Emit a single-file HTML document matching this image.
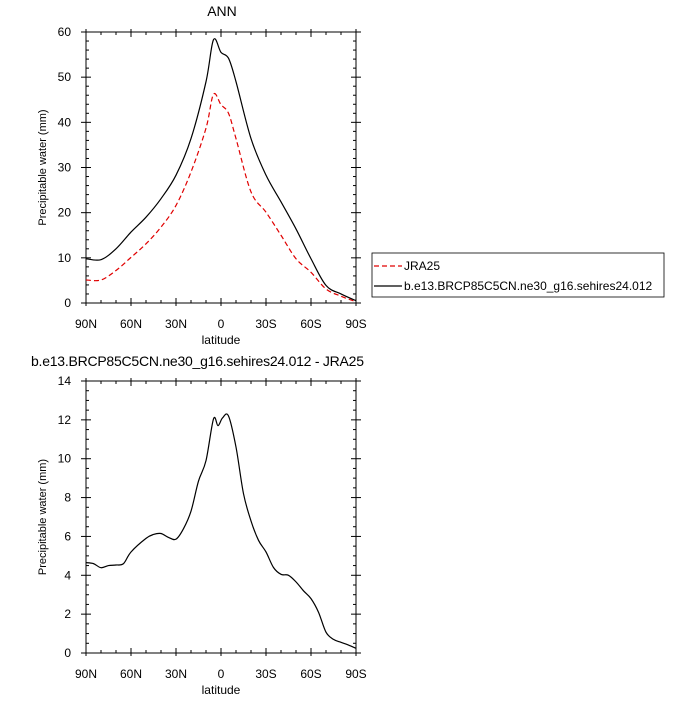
<!DOCTYPE html>
<html><head><meta charset="utf-8"><style>
body{margin:0;background:#fff;}
svg text{font-family:"Liberation Sans",sans-serif;fill:#000;}
</style></head><body>
<svg id="c" width="700" height="700" viewBox="0 0 700 700" xmlns="http://www.w3.org/2000/svg"></svg>
<script>
const lats=[90,80,70,60,50,40,30,20,10,5,0,-5,-10,-20,-30,-40,-50,-60,-70,-80,-90];
const modelVals=[9.8,9.6,12,15.7,19,23.1,28.3,36.4,49,58.3,55.5,54.2,49,36.4,28.3,22.4,16.4,9.8,3.9,2,0.5];
const jraVals=[5.1,5.1,7.2,10.1,13.1,16.8,21.6,29,38.7,46.2,43.9,42,36.4,24.6,20.1,15,9.8,6.8,3.1,1.5,0.3];
const diffLats=[90,85,80,75,70,65,60,50,45,40,35,30,25,20,15,10,5,2,-1,-5,-10,-15,-20,-25,-30,-35,-40,-45,-50,-55,-60,-65,-70,-75,-80,-85,-90];
const diffVals=[4.65,4.6,4.39,4.5,4.53,4.6,5.2,5.9,6.1,6.15,5.95,5.86,6.4,7.3,8.85,9.9,12.05,11.7,12.1,12.2,10.6,8.2,6.8,5.8,5.2,4.4,4.05,4.0,3.66,3.2,2.8,2.1,1.07,0.7,0.55,0.41,0.24];
const xTicks=[90,60,30,0,-30,-60,-90];
const xTickLabels=["90N","60N","30N","0","30S","60S","90S"];
const topYTicks=[0,10,20,30,40,50,60];
const botYTicks=[0,2,4,6,8,10,12,14];

const svg=document.getElementById('c');
const NS='http://www.w3.org/2000/svg';
function mk(tag,attrs,parent){const e=document.createElementNS(NS,tag);for(const k in attrs)e.setAttribute(k,attrs[k]);(parent||svg).appendChild(e);return e;}
const L=86,R=356;
function xs(lat){return L+(90-lat)/180*(R-L);}

function panel(top,bottom,ymax,yTicks,minorStep,name){
  const g=mk('g',{});
  
  
  const ys=v=>bottom-v/ymax*(bottom-top);
  mk('rect',{x:L,y:top,width:R-L,height:bottom-top,fill:'none',stroke:'#000','stroke-width':1},g);
  for(let lat=90;lat>=-90;lat-=10){
    const major=lat%30===0;const x=xs(lat);const len=major?5:3;
    mk('line',{x1:x,y1:bottom+(major?3:0),x2:x,y2:bottom-len,stroke:'#000'},g);
    mk('line',{x1:x,y1:top-(major?3:0),x2:x,y2:top+len,stroke:'#000'},g);
  }
  xTicks.forEach((t,i)=>{const tx=mk('text',{x:xs(t),y:bottom+25,'text-anchor':'middle','font-size':12},g);tx.textContent=xTickLabels[i];
    });
  for(let v=0;v<=ymax+1e-9;v+=minorStep){
    const y=ys(v);const major=yTicks.some(t=>Math.abs(t-v)<1e-6);const len=major?5:3;
    mk('line',{x1:L-(major?5:0),y1:y,x2:L+len,y2:y,stroke:'#000'},g);
    mk('line',{x1:R+(major?5:0),y1:y,x2:R-len,y2:y,stroke:'#000'},g);
  }
  yTicks.forEach(t=>{const tx=mk('text',{x:L-15,y:ys(t)+4,'text-anchor':'end','font-size':12},g);tx.textContent=t;
    });
  const xl=mk('text',{x:(L+R)/2,y:bottom+41,'text-anchor':'middle','font-size':12},g);xl.textContent='latitude';
  
  const yl=mk('text',{x:0,y:0,'text-anchor':'middle','font-size':11,transform:`translate(46,${(top+bottom)/2}) rotate(-90)`},g);yl.textContent='Precipitable water (mm)';
  
  return ys;
}
function line(lx,vals,ys,attrs,name){
  const P=lx.map((l,i)=>[xs(l),ys(vals[i])]);
  let d='M'+P[0][0]+','+P[0][1];
  for(let i=0;i<P.length-1;i++){
    const p0=P[i-1]||P[i],p1=P[i],p2=P[i+1],p3=P[i+2]||P[i+1];
    const c1=[p1[0]+(p2[0]-p0[0])/6,p1[1]+(p2[1]-p0[1])/6];
    const c2=[p2[0]-(p3[0]-p1[0])/6,p2[1]-(p3[1]-p1[1])/6];
    d+=` C${c1[0]},${c1[1]} ${c2[0]},${c2[1]} ${p2[0]},${p2[1]}`;
  }
  const p=mk('path',Object.assign({d:d,fill:'none','stroke-linejoin':'round'},attrs));
  
  
}
const ys1=panel(32,303,60,topYTicks,2,'top-panel');
line(lats,jraVals,ys1,{stroke:'#e00000','stroke-width':1.2,'stroke-dasharray':'5,3'},'jra25-line');
line(lats,modelVals,ys1,{stroke:'#000','stroke-width':1.2},'model-line');
const ys2=panel(381,653,14,botYTicks,0.5,'bottom-panel');
line(diffLats,diffVals,ys2,{stroke:'#000','stroke-width':1.2},'difference-line');

let t=mk('text',{x:222,y:16,'text-anchor':'middle','font-size':14});t.textContent='ANN';

t=mk('text',{x:31,y:366,'font-size':14,textLength:333});t.textContent='b.e13.BRCP85C5CN.ne30_g16.sehires24.012 - JRA25';


const lg=mk('g',{});


mk('rect',{x:372,y:253,width:292,height:44,fill:'none',stroke:'#000','stroke-width':0.8},lg);
mk('line',{x1:374,y1:266,x2:402,y2:266,stroke:'#e00000','stroke-width':1.2,'stroke-dasharray':'5,3'},lg);
t=mk('text',{x:404,y:270,'font-size':12},lg);t.textContent='JRA25';

mk('line',{x1:374,y1:286,x2:402,y2:286,stroke:'#000','stroke-width':1.2},lg);
t=mk('text',{x:404,y:290,'font-size':12},lg);t.textContent='b.e13.BRCP85C5CN.ne30_g16.sehires24.012';

</script>
</body></html>
